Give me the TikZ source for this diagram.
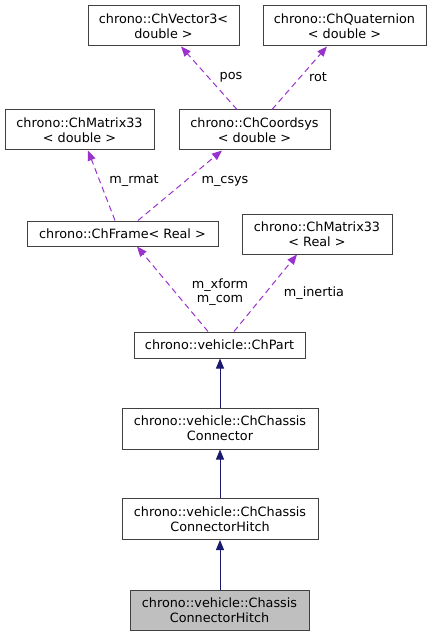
\documentclass[tikz,border=0pt]{standalone}
\usepackage{fontspec}
\setmainfont{DejaVu Sans}
\usetikzlibrary{arrows.meta}
\definecolor{boxline}{HTML}{404040}
\definecolor{boxgray}{HTML}{BFBFBF}
\definecolor{dep}{HTML}{9A32CD}
\definecolor{inh}{HTML}{191970}
\tikzset{
  cls/.style={draw=boxline, line width=1pt, fill=white, inner sep=0pt, align=center,
    font=\fontsize{12.8pt}{15pt}\selectfont},
  usage/.style={draw=dep, line width=1pt, dash pattern=on 6pt off 4pt,
    -{Triangle[length=10pt,width=8pt,fill=dep]}},
  inherit/.style={draw=inh, line width=1pt, -{Triangle[length=10pt,width=8pt,fill=inh]}},
  lbl/.style={inner sep=0pt, align=center, font=\fontsize{12.8pt}{14pt}\selectfont}
}
\begin{document}
\begin{tikzpicture}[x=1pt,y=1pt]
\useasboundingbox (0,0) rectangle (432,-636);
\fill[white] (0,0) rectangle (432,-636);
\node[cls, minimum width=151pt, minimum height=40pt] (vec) at (163.5,-26) {chrono::ChVector3\textless\\double \textgreater};
\node[cls, minimum width=163pt, minimum height=40pt] (quat) at (344.5,-26) {chrono::ChQuaternion\\\textless{} double \textgreater};
\node[cls, minimum width=149pt, minimum height=40pt] (mat) at (79.5,-130) {chrono::ChMatrix33\\\textless{} double \textgreater};
\node[cls, minimum width=151pt, minimum height=40pt] (csys) at (254.5,-130) {chrono::ChCoordsys\\\textless{} double \textgreater};
\node[cls, minimum width=191pt, minimum height=25pt] (frame) at (122.5,-233.5) {chrono::ChFrame\textless{} Real \textgreater};
\node[cls, minimum width=150pt, minimum height=40pt] (matr) at (317,-234) {chrono::ChMatrix33\\\textless{} Real \textgreater};
\node[cls, minimum width=171pt, minimum height=26pt] (part) at (219.5,-345) {chrono::vehicle::ChPart};
\node[cls, minimum width=196pt, minimum height=41pt] (conn) at (220,-428.5) {chrono::vehicle::ChChassis\\Connector};
\node[cls, minimum width=196pt, minimum height=41pt] (hitchbase) at (220,-519) {chrono::vehicle::ChChassis\\ConnectorHitch};
\node[cls, fill=boxgray, minimum width=179pt, minimum height=40pt] (chassis) at (219.5,-610) {chrono::vehicle::Chassis\\ConnectorHitch};

\draw[usage] ([xshift=-17.5pt]csys.north) -- ([xshift=17.5pt]vec.south);
\draw[usage] ([xshift=17.5pt]csys.north) -- ([xshift=-17.5pt]quat.south);
\draw[usage] ([xshift=-7.5pt]frame.north) -- ([xshift=8.5pt]mat.south);
\draw[usage] ([xshift=15.5pt]frame.north) -- ([xshift=-32.5pt]csys.south);
\draw[usage] ([xshift=-11.5pt]part.north) -- ([xshift=14.5pt]frame.south);
\draw[usage] ([xshift=14.5pt]part.north) -- ([xshift=-20pt]matr.south);

\draw[inherit] (conn.north) -- (conn.north |- part.south);
\draw[inherit] (hitchbase.north) -- (conn.south);
\draw[inherit] (chassis.north -| hitchbase.north) -- (hitchbase.south);

\node[lbl] (lpos) at (231,-77) {pos};
\node[lbl] (lrot) at (318,-77) {rot};
\node[lbl] (lrmat) at (134,-181) {m\_rmat};
\node[lbl] (lcsys) at (225,-181) {m\_csys};
\node[lbl] (lxform) at (220,-292) {m\_xform\\m\_com};
\node[lbl] (linertia) at (314,-293) {m\_inertia};
\end{tikzpicture}
\end{document}
